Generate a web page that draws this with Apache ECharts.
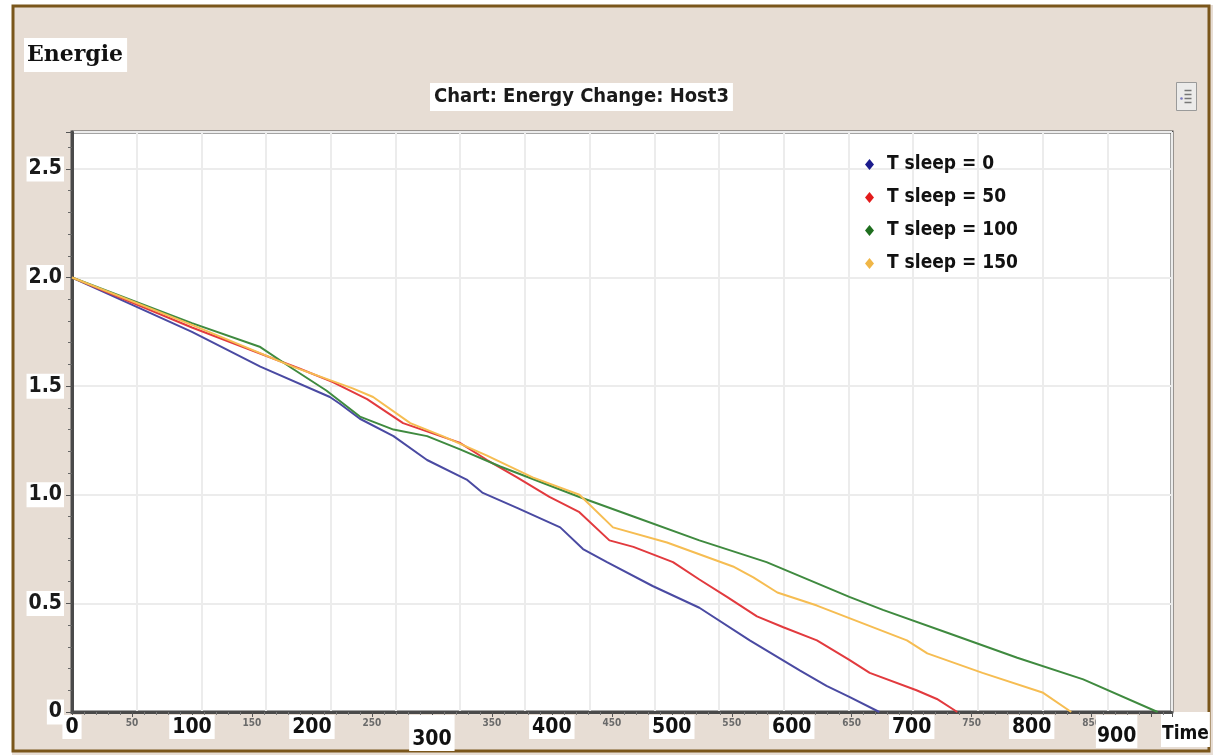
<!DOCTYPE html>
<html>
<head>
<meta charset="utf-8">
<script src="https://cdn.jsdelivr.net/npm/echarts@6/dist/echarts.min.js"></script>
<style>
  html, body { margin: 0; padding: 0; background: #ffffff; }
  #chart { width: 1213px; height: 755px; }
</style>
</head>
<body>
<div id="chart"></div>
<script>
// Energy of Host3 over time for four sleep durations: [time, energy]
const seriesNames = ['T sleep = 0', 'T sleep = 50', 'T sleep = 100', 'T sleep = 150'];

const energySleep0 = [
  [0, 2.0], [100, 1.75], [157, 1.59], [215, 1.45], [223, 1.42], [240, 1.35],
  [268, 1.27], [296, 1.16], [329, 1.07], [342, 1.01], [371, 0.94], [407, 0.85],
  [426, 0.75], [446, 0.69], [484, 0.58], [523, 0.48], [565, 0.33], [607, 0.19],
  [629, 0.12], [648, 0.07], [673, 0]
];
const energySleep50 = [
  [0, 2.0], [100, 1.77], [190, 1.58], [217, 1.52], [246, 1.44], [276, 1.33],
  [323, 1.24], [346, 1.16], [371, 1.08], [398, 0.99], [423, 0.92], [448, 0.79],
  [468, 0.76], [501, 0.69], [523, 0.61], [546, 0.53], [571, 0.44], [593, 0.39],
  [621, 0.33], [648, 0.24], [665, 0.18], [704, 0.10], [721, 0.06], [738, 0]
];
const energySleep100 = [
  [0, 2.0], [100, 1.79], [157, 1.68], [184, 1.58], [212, 1.48], [240, 1.36],
  [268, 1.30], [296, 1.27], [323, 1.21], [357, 1.13], [423, 0.99], [468, 0.90],
  [523, 0.79], [579, 0.69], [648, 0.53], [676, 0.47], [732, 0.36], [788, 0.25],
  [843, 0.15], [905, 0]
];
const energySleep150 = [
  [0, 2.0], [101, 1.78], [184, 1.59], [234, 1.49], [251, 1.45], [282, 1.33],
  [309, 1.27], [346, 1.18], [384, 1.08], [423, 1.00], [451, 0.85], [496, 0.78],
  [551, 0.67], [568, 0.62], [588, 0.55], [621, 0.49], [696, 0.33], [713, 0.27],
  [759, 0.18], [809, 0.09], [833, 0]
];

const lineColors = ['#4a4aa2', '#e23a3e', '#3f8a3f', '#f6bd52'];
const markerColors = ['#1b1b8c', '#e31b1b', '#1e6e1e', '#f0b646'];
const allSeries = [energySleep0, energySleep50, energySleep100, energySleep150];

const NARROW = "'Liberation Sans Narrow','DejaVu Sans Condensed','Liberation Sans',Arial,sans-serif";

const chart = echarts.init(document.getElementById('chart'));

chart.setOption({
  backgroundColor: '#e7ddd4',
  animation: false,
  title: [
    {
      text: 'Energie',
      left: 24, top: 38,
      backgroundColor: '#ffffff',
      padding: [6, 4, 6, 3],
      textStyle: { fontFamily: "'DejaVu Serif','Liberation Serif',serif", fontWeight: 'bold', fontSize: 22, color: '#111' }
    },
    {
      text: 'Chart: Energy Change: Host3',
      left: 430, top: 83,
      backgroundColor: '#ffffff',
      padding: [4, 4, 4, 4],
      textStyle: { fontFamily: NARROW, fontWeight: 'bold', fontSize: 20, color: '#1a1a1a' }
    }
  ],
  legend: {
    orient: 'vertical',
    left: 860, top: 150,
    icon: 'diamond',
    itemWidth: 9, itemHeight: 11,
    itemGap: 14,
    data: seriesNames,
    textStyle: { fontFamily: NARROW, fontWeight: 'bold', fontSize: 19, color: '#111', padding: [0, 0, 0, 8] }
  },
  grid: {
    left: 72, top: 132, width: 1100, height: 580,
    outerBoundsMode: 'none',
    show: true,
    backgroundColor: '#ffffff',
    borderColor: '#4a4a4a',
    borderWidth: 3
  },
  xAxis: [
    {
      type: 'value',
      min: 0, max: 917, interval: 50,
      name: 'Time',
      nameLocation: 'end',
      nameGap: -11,
      nameMoveOverlap: false,
      nameTextStyle: {
        fontFamily: NARROW, fontWeight: 'bold', fontSize: 19, color: '#111',
        align: 'left', verticalAlign: 'top', backgroundColor: '#ffffff',
        padding: [13, 1, 3, 1]
      },
      axisLine: { lineStyle: { color: '#4a4a4a', width: 3 } },
      axisTick: { show: true, length: 5, lineStyle: { color: '#555' } },
      minorTick: { show: true, splitNumber: 5, length: 3, lineStyle: { color: '#777' } },
      splitLine: { show: false },
      axisLabel: {
        showMaxLabel: false,
        margin: 3,
        formatter: function (v) {
          if (v % 100 !== 0) return '{s|' + v + '}';
          if (v === 300) return '{d|' + v + '}';
          // the 900 label sits left of its tick, next to the axis name
          if (v === 900) return '{e|' + v + '}{gap|}';
          return '{b|' + v + '}';
        },
        rich: {
          b: { fontFamily: NARROW, fontWeight: 'bold', fontSize: 21, color: '#111', backgroundColor: '#ffffff', padding: [2, 3, 1, 3] },
          d: { fontFamily: NARROW, fontWeight: 'bold', fontSize: 21, color: '#111', backgroundColor: '#ffffff', padding: [14, 3, 1, 3] },
          e: { fontFamily: NARROW, fontWeight: 'bold', fontSize: 21, color: '#111', backgroundColor: '#ffffff', padding: [11, 1, 1, 1] },
          gap: { width: 70 },
          s: { fontFamily: NARROW, fontWeight: 'bold', fontSize: 10, color: '#6a6a6a', padding: [3, 0, 0, 0] }
        }
      }
    },
    {
      // light vertical grid of the plot
      type: 'value',
      position: 'top',
      min: 0, max: 17, interval: 1,
      axisLine: { show: false },
      axisTick: { show: false },
      axisLabel: { show: false },
      splitLine: { show: true, lineStyle: { color: '#ececec', width: 2 } }
    }
  ],
  yAxis: {
    type: 'value',
    min: 0, max: 2.67, interval: 0.5,
    axisLine: { show: true, lineStyle: { color: '#4a4a4a', width: 3 } },
    axisTick: { show: true, length: 6, lineStyle: { color: '#555' } },
    minorTick: { show: true, splitNumber: 5, length: 4, lineStyle: { color: '#666' } },
    splitLine: { show: true, lineStyle: { color: '#ececec', width: 2 } },
    axisLabel: {
      showMaxLabel: false,
      margin: 8,
      fontFamily: NARROW, fontWeight: 'bold', fontSize: 21, color: '#1a1a1a',
      backgroundColor: '#ffffff',
      padding: [2, 2, 2, 2],
      formatter: function (v) { return v === 0 ? '0' : v.toFixed(1); }
    }
  },
  series: allSeries.map(function (d, i) {
    return {
      name: seriesNames[i],
      type: 'line',
      xAxisIndex: 0,
      data: d,
      showSymbol: false,
      itemStyle: { color: markerColors[i] },
      lineStyle: { color: lineColors[i], width: 2 },
      z: 3 + i
    };
  }),
  graphic: [
    // white margin outside the frame
    { type: 'rect', shape: { x: 0, y: 0, width: 1213, height: 5 }, style: { fill: '#ffffff' }, silent: true },
    { type: 'rect', shape: { x: 0, y: 0, width: 12, height: 755 }, style: { fill: '#ffffff' }, silent: true },
    // brown frame
    { type: 'rect', shape: { x: 13, y: 6, width: 1196, height: 745 }, style: { fill: 'none', stroke: '#7a561b', lineWidth: 3 }, silent: true },
    // menu button
    {
      type: 'group', left: 1176, top: 82, silent: true,
      children: [
        { type: 'rect', shape: { x: 0, y: 0, width: 20, height: 28 }, style: { fill: '#ecebea', stroke: '#9a9a9a', lineWidth: 1 } },
        { type: 'line', shape: { x1: 8, y1: 8, x2: 15, y2: 8 }, style: { stroke: '#777', lineWidth: 1.5 } },
        { type: 'line', shape: { x1: 8, y1: 12, x2: 15, y2: 12 }, style: { stroke: '#777', lineWidth: 1.5 } },
        { type: 'line', shape: { x1: 8, y1: 16, x2: 15, y2: 16 }, style: { stroke: '#777', lineWidth: 1.5 } },
        { type: 'line', shape: { x1: 8, y1: 20, x2: 15, y2: 20 }, style: { stroke: '#777', lineWidth: 1.5 } },
        { type: 'circle', shape: { cx: 5, cy: 16, r: 1.3 }, style: { fill: '#7a7ac0' } }
      ]
    }
  ]
});
</script>
</body>
</html>
